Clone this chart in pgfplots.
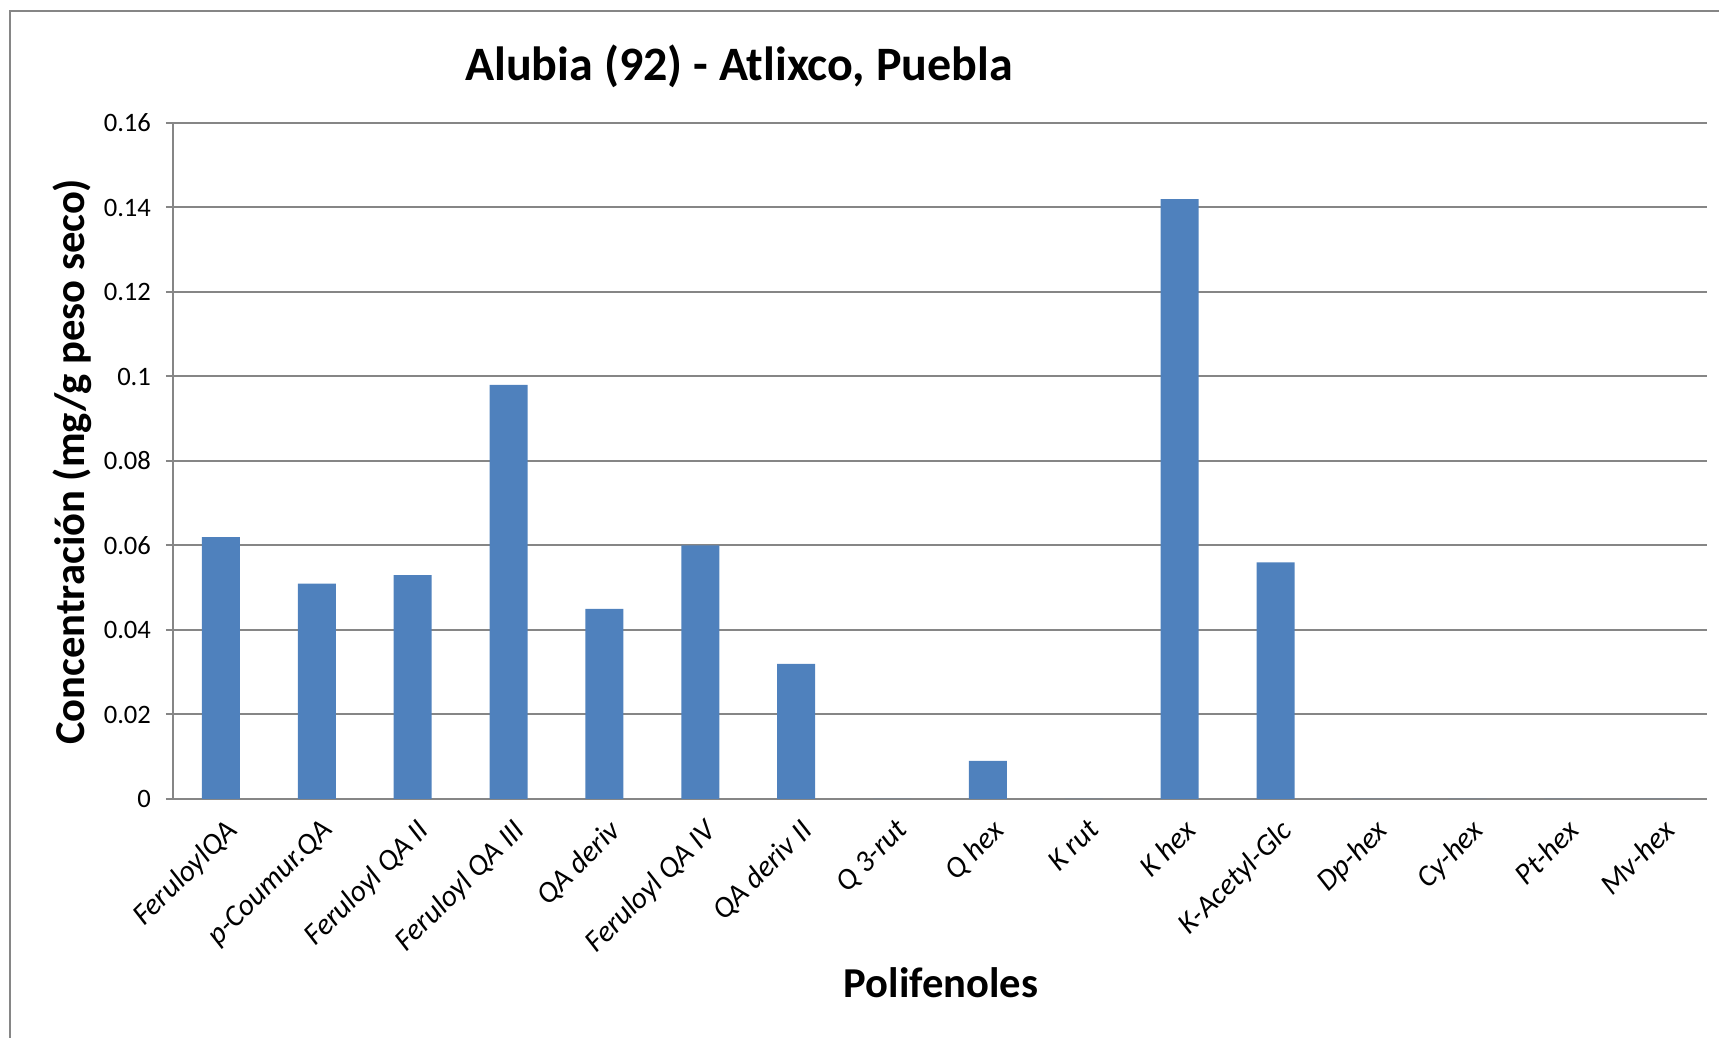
\documentclass[border=0pt]{standalone}
\usepackage{pgfplots}
\pgfplotsset{compat=1.18}
\usepackage{fontspec}
\setmainfont{Carlito}
\definecolor{barblue}{HTML}{4F81BD}
\definecolor{gridgray}{HTML}{868686}
\begin{document}
\begin{tikzpicture}
\useasboundingbox (0,0) rectangle (859.5pt,519pt);
\draw[gridgray, line width=1pt] (5pt,0) -- (5pt,513.5pt) -- (859.5pt,513.5pt);
\begin{axis}[
  at={(86.5pt,119.5pt)}, anchor=south west,
  scale only axis, width=767pt, height=338pt,
  xmin=-0.5, xmax=15.5, ymin=0, ymax=0.16,
  axis x line*=bottom, axis y line*=left,
  x axis line style={-, gridgray, line width=1pt},
  y axis line style={-, gridgray, line width=1pt},
  ytick={0,0.02,0.04,0.06,0.08,0.1,0.12,0.14,0.16},
  ymajorgrids, grid style={gridgray, line width=1pt},
  tick align=outside, major tick length=3.5pt, minor tick length=3.5pt,
  ytick style={gridgray, line width=1pt},
  xtick={0,1,2,3,4,5,6,7,8,9,10,11,12,13,14,15},
  xtick style={draw=none},
  minor xtick={-0.5,0.5,1.5,2.5,3.5,4.5,5.5,6.5,7.5,8.5,9.5,10.5,11.5,12.5,13.5,14.5,15.5},
  minor x tick style={gridgray, line width=1pt},
  xticklabels={FeruloylQA, p-Coumur.QA, Feruloyl QA II, Feruloyl QA III, QA deriv, Feruloyl QA IV, QA deriv II, Q 3-rut, Q hex, K rut, K hex, K-Acetyl-Glc, Dp-hex, Cy-hex, Pt-hex, Mv-hex},
  xticklabel style={rotate=45, anchor=north east, font=\itshape\fontsize{15}{17}\selectfont, inner sep=2pt, xshift=-1pt, yshift=-3pt},
  yticklabel style={font=\fontsize{13.3}{15}\selectfont, /pgf/number format/fixed, /pgf/number format/precision=2, xshift=-4pt},
  /pgf/number format/assume math mode=true,
]
\addplot[ybar, bar width=19pt, fill=barblue, draw=none] coordinates {
(0,0.062) (1,0.051) (2,0.053) (3,0.098) (4,0.045) (5,0.060) (6,0.032) (7,0)
(8,0.009) (9,0) (10,0.142) (11,0.056) (12,0) (13,0) (14,0) (15,0)};
\end{axis}
\node[font=\bfseries\fontsize{24}{28}\selectfont] at (369.5pt,486pt) {Alubia (92) - Atlixco, Puebla};
\node[rotate=90, font=\bfseries\fontsize{21.3}{25}\selectfont] at (36pt,288pt) {Concentración (mg/g peso seco)};
\node[font=\bfseries\fontsize{21.3}{25}\selectfont] at (470.5pt,27.5pt) {Polifenoles};
\end{tikzpicture}
\end{document}
